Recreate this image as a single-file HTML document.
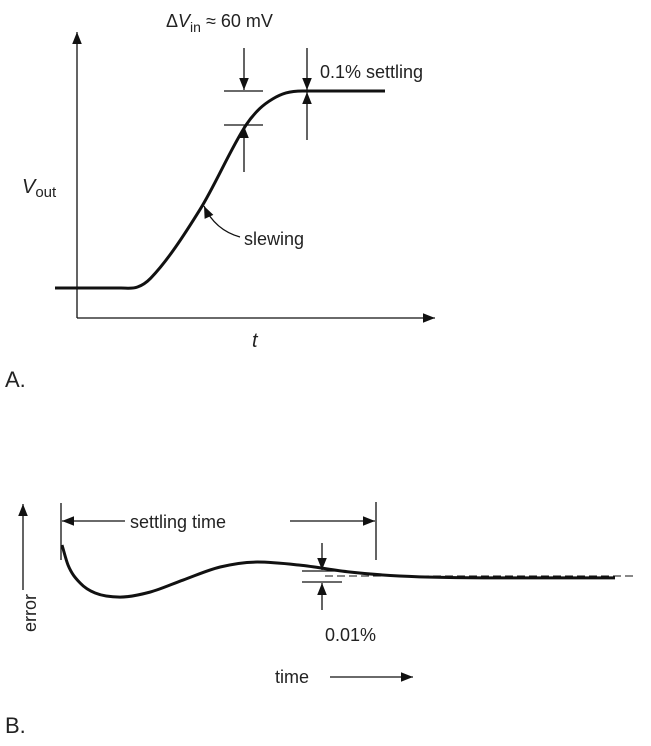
<!DOCTYPE html>
<html><head><meta charset="utf-8"><style>
html,body{margin:0;padding:0;background:#fff;}
svg{display:block;font-family:"Liberation Sans",Arial,sans-serif;fill:#222;}
</style></head><body>
<svg id="c" width="651" height="746" viewBox="0 0 651 746">
<defs>
<marker id="ahb" viewBox="0 0 10 10" refX="10" refY="5" markerWidth="16" markerHeight="12" markerUnits="userSpaceOnUse" orient="auto"><path d="M0,1 L10,5 L0,9 z" fill="#111"/></marker>
</defs>
<g stroke="#111" fill="none" stroke-width="1.3">
 <line x1="77" y1="318" x2="77" y2="32" marker-end="url(#ahb)"/>
 <line x1="77" y1="318" x2="435" y2="318" marker-end="url(#ahb)"/>
 <path id="vout" stroke-width="3"/>
 <line x1="224" y1="91" x2="263" y2="91"/><line x1="224" y1="125" x2="263" y2="125"/>
 <line x1="244" y1="48" x2="244" y2="90" marker-end="url(#ahb)"/>
 <line x1="244" y1="172" x2="244" y2="126" marker-end="url(#ahb)"/>
 <line x1="307" y1="48" x2="307" y2="90" marker-end="url(#ahb)"/>
 <line x1="307" y1="140" x2="307" y2="92" marker-end="url(#ahb)"/>
 <path d="M240,237 Q215,230 204,206" marker-end="url(#ahb)"/>
 <line x1="23" y1="590" x2="23" y2="504" marker-end="url(#ahb)"/>
 <line x1="61" y1="503" x2="61" y2="560"/><line x1="376" y1="502" x2="376" y2="560"/>
 <line x1="125" y1="521" x2="62" y2="521" marker-end="url(#ahb)"/>
 <line x1="290" y1="521" x2="375" y2="521" marker-end="url(#ahb)"/>
 <path id="err" stroke-width="3"/>
 <line x1="325" y1="576" x2="636" y2="576" stroke-dasharray="8,4" stroke-width="1"/>
 <line x1="302" y1="571" x2="342" y2="571"/><line x1="302" y1="582" x2="342" y2="582"/>
 <line x1="322" y1="543" x2="322" y2="570" marker-end="url(#ahb)"/>
 <line x1="322" y1="610" x2="322" y2="583" marker-end="url(#ahb)"/>
 <line x1="330" y1="677" x2="413" y2="677" marker-end="url(#ahb)"/>
</g>
<g font-size="18">
 <text x="166" y="27">Δ<tspan font-style="italic">V</tspan><tspan font-size="14" dy="5">in</tspan><tspan dy="-5"> ≈ 60 mV</tspan></text>
 <text x="320" y="78">0.1% settling</text>
 <text x="22" y="193" font-size="20"><tspan font-style="italic">V</tspan><tspan font-size="15" dy="4">out</tspan></text>
 <text x="244" y="245">slewing</text>
 <text x="252" y="347" font-size="20" font-style="italic">t</text>
 <text x="5" y="387" font-size="22">A.</text>
 <text x="130" y="528">settling time</text>
 <text transform="translate(36,632) rotate(-90)">error</text>
 <text x="325" y="641">0.01%</text>
 <text x="275" y="683">time</text>
 <text x="5" y="733" font-size="22">B.</text>
</g>
</svg>
<script>
const voutT=[0,0.2,0.25,0.29,0.44,0.58,0.62,0.66,0.70,0.75,0.85,1];
const voutV=[0,0,0.005,0.05,0.40,0.83,0.91,0.96,0.99,1,1,1];
const errT=[0,0.011,0.033,0.06,0.105,0.159,0.219,0.286,0.353,0.43,0.52,0.61,0.79,1];
const errV=[1,0.35,-0.23,-0.55,-0.68,-0.52,-0.13,0.29,0.45,0.35,0.13,0,-0.06,-0.06];
const xa=t=>55+t*330, ya=v=>288-v*197;
const xb=t=>62+t*553, yb=v=>576-v*31;
function smooth(px,py){
  const n=px.length,m=[];
  for(let i=0;i<n;i++){
    if(i===0)m.push((py[1]-py[0])/(px[1]-px[0]));
    else if(i===n-1)m.push((py[n-1]-py[n-2])/(px[n-1]-px[n-2]));
    else{const a=(py[i]-py[i-1])/(px[i]-px[i-1]),b=(py[i+1]-py[i])/(px[i+1]-px[i]);m.push(a*b<=0?0:(a+b)/2);}
  }
  let d="M"+px[0]+","+py[0];
  for(let i=1;i<n;i++){const h=(px[i]-px[i-1])/3;
    d+=` C${px[i-1]+h},${py[i-1]+m[i-1]*h} ${px[i]-h},${py[i]-m[i]*h} ${px[i]},${py[i]}`;}
  return d;
}
document.getElementById('vout').setAttribute('d',smooth(voutT.map(xa),voutV.map(ya)));
document.getElementById('err').setAttribute('d',smooth(errT.map(xb),errV.map(yb)));
</script>
</body></html>
